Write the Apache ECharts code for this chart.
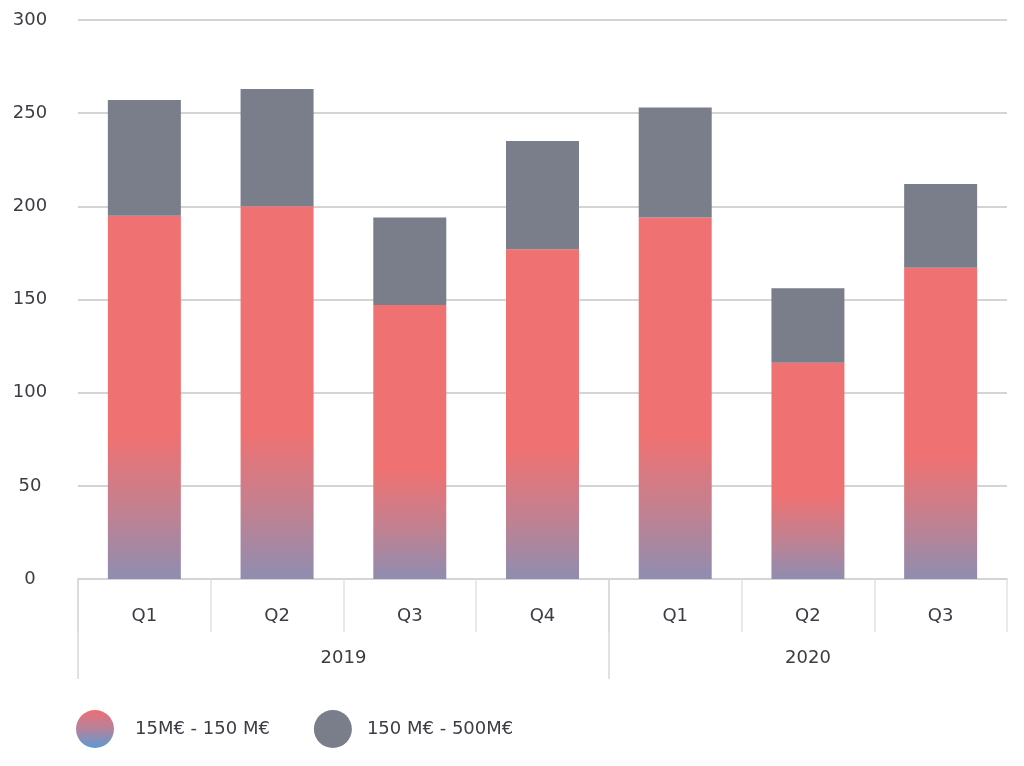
<!DOCTYPE html>
<html>
<head>
<meta charset="utf-8">
<script src="https://cdn.jsdelivr.net/npm/echarts@6/dist/echarts.min.js"></script>
<style>
html,body{margin:0;padding:0;background:#fff;}
#chart{width:1024px;height:766px;}
</style>
</head>
<body>
<div id="chart"></div>
<script>
const quarters = ['Q1', 'Q2', 'Q3', 'Q4', 'Q1', 'Q2', 'Q3'];
const years = ['2019', '2020'];
const yearSpans = [4, 3];
const seriesNames = ['15M€ - 150 M€', '150 M€ - 500M€'];
const midValues = [195, 200, 147, 177, 194, 116, 167];
const largeValues = [62, 63, 47, 58, 59, 40, 45];

const FONT = 'DejaVu Sans';
const TXT = '#3c3c44';
const LINE = '#d4d4d4';
const FS = 18;

const yearBounds = [0];
const yearCenters = [];
yearSpans.forEach((s, i) => {
  yearCenters.push(yearBounds[i] + s / 2);
  yearBounds.push(yearBounds[i] + s);
});

const barGrad = new echarts.graphic.LinearGradient(0, 0, 0, 1, [
  { offset: 0, color: '#f07171' },
  { offset: 0.6, color: '#f07171' },
  { offset: 0.8, color: '#c5808f' },
  { offset: 1, color: '#8f8db0' }
]);
const legendGrad = new echarts.graphic.LinearGradient(0, 0, 0, 1, [
  { offset: 0, color: '#ec6f74' },
  { offset: 0.5, color: '#b3839c' },
  { offset: 1, color: '#5d9ad3' }
]);

const chart = echarts.init(document.getElementById('chart'));
chart.setOption({
  animation: false,
  backgroundColor: '#fff',
  grid: { left: 78, right: 17, top: 20, bottom: 187 },
  legend: {
    left: 71, top: 705,
    icon: 'circle',
    itemWidth: 38, itemHeight: 38,
    itemGap: 44,
    textStyle: { fontFamily: FONT, fontSize: FS, color: TXT },
    data: [
      { name: seriesNames[0], itemStyle: { color: legendGrad }, textStyle: { padding: [0, 0, 0, 16] } },
      { name: seriesNames[1], itemStyle: { color: '#7a7d8a' }, textStyle: { padding: [0, 0, 0, 10] } }
    ]
  },
  xAxis: [
    {
      type: 'category',
      data: quarters,
      axisLine: { lineStyle: { color: LINE, width: 2 } },
      axisTick: { show: true, interval: 0, length: 53, lineStyle: { color: '#e2e2e2', width: 1.5 } },
      axisLabel: { margin: 28, fontFamily: FONT, fontSize: FS, color: TXT },
      splitLine: { show: false }
    },
    {
      type: 'value',
      position: 'bottom',
      min: 0, max: quarters.length,
      axisLine: { show: false },
      axisTick: { show: true, customValues: yearBounds.slice(0, -1), length: 100, lineStyle: { color: '#d8d8d8', width: 1.5 } },
      axisLabel: {
        customValues: yearCenters,
        margin: 70,
        fontFamily: FONT, fontSize: FS, color: TXT,
        formatter: (v) => {
          const i = yearCenters.indexOf(v);
          return i >= 0 ? years[i] : '';
        }
      },
      splitLine: { show: false }
    }
  ],
  yAxis: {
    type: 'value',
    min: 0, max: 300, interval: 50,
    axisLine: { show: false },
    axisTick: { show: false },
    axisLabel: { align: 'center', margin: 48, fontFamily: FONT, fontSize: FS, color: TXT },
    splitLine: { lineStyle: { color: LINE, width: 2 } }
  },
  series: [
    {
      name: seriesNames[0],
      type: 'bar',
      stack: 'total',
      barWidth: '55%',
      data: midValues,
      itemStyle: { color: barGrad }
    },
    {
      name: seriesNames[1],
      type: 'bar',
      stack: 'total',
      barWidth: '55%',
      data: largeValues,
      itemStyle: { color: '#7a7d8a' }
    }
  ]
});
</script>
</body>
</html>
